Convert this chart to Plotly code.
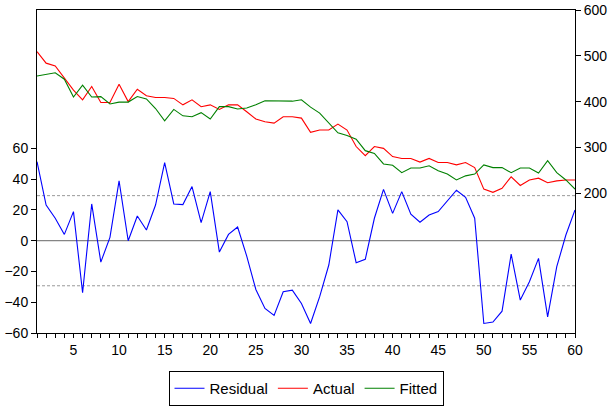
import plotly.graph_objects as go

obs = list(range(1, 61))

residual = [51.4, 23.2, 14.6, 4.1, 18.9, -33.8, 23.9, -13.9, 2.2, 38.9,
            0.0, 16.1, 7.0, 23.2, 50.8, 23.9, 23.5, 35.2, 11.7, 31.9,
            -7.4, 4.1, 8.9, -10.0, -31.7, -44.0, -48.6, -33.2, -32.1, -40.8,
            -53.8, -36.4, -15.8, 20.0, 12.4, -14.3, -12.1, 14.6, 33.4, 17.8,
            31.9, 17.2, 12.0, 16.7, 18.9, 26.0, 32.8, 28.2, 14.6, -53.8,
            -52.9, -45.8, -8.7, -38.6, -26.7, -11.5, -49.5, -16.9, 3.7, 20.0]

actual = [509, 484, 478, 451, 425, 404, 433, 398, 398, 438,
          400, 427, 413, 409, 409, 407, 393, 404, 389, 393,
          383, 393, 393, 378, 362, 356, 353, 367, 367, 364,
          333, 338, 338, 351, 338, 302, 282, 302, 298, 280,
          276, 276, 268, 276, 267, 267, 262, 267, 256, 209,
          202, 211, 236, 217, 229, 233, 223, 227, 229, 229]

fitted = [456, 460, 463, 449, 410, 436, 410, 411, 395, 399,
          399, 411, 406, 385, 358, 383, 369, 367, 376, 362,
          389, 389, 384, 386, 393, 402, 402, 402, 401, 404,
          388, 375, 354, 332, 326, 318, 293, 287, 264, 261,
          245, 255, 255, 260, 249, 242, 229, 238, 242, 262,
          256, 256, 245, 255, 255, 244, 271, 245, 229, 209]

std_err = 29.3

left_ticks = [-60, -40, -20, 0, 20, 40, 60]
right_ticks = [200, 300, 400, 500, 600]
x_labels = [str(v) if v % 5 == 0 else "" for v in obs]

font = dict(family="Liberation Sans, Arial, sans-serif", size=14, color="black")

fig = go.Figure()
fig.add_trace(go.Scatter(x=obs, y=residual, name="Residual", mode="lines",
                         line=dict(color="#0000ff", width=1.1), yaxis="y"))
fig.add_trace(go.Scatter(x=obs, y=actual, name="Actual", mode="lines",
                         line=dict(color="#ff0000", width=1.1), yaxis="y2"))
fig.add_trace(go.Scatter(x=obs, y=fitted, name="Fitted", mode="lines",
                         line=dict(color="#008000", width=1.1), yaxis="y2"))

# zero line and +/- one standard error bands
fig.add_shape(type="line", xref="paper", yref="y", x0=0, x1=1, y0=0, y1=0,
              line=dict(color="#666666", width=1), layer="below")
for v in (std_err, -std_err):
    fig.add_shape(type="line", xref="paper", yref="y", x0=0, x1=1, y0=v, y1=v,
                  line=dict(color="#999999", width=1, dash="3px,2px"), layer="below")

fig.update_layout(
    width=611, height=407,
    margin=dict(l=37, r=36, t=10, b=74, autoexpand=False),
    paper_bgcolor="white", plot_bgcolor="white",
    font=font,
    showlegend=True,
    legend=dict(orientation="h", x=0.5, xanchor="center", y=-0.226, yanchor="bottom",
                bordercolor="black", borderwidth=1, font=dict(font, size=15),
                itemwidth=30, tracegroupgap=0),
    xaxis=dict(range=[1, 60], tickvals=obs, ticktext=x_labels, automargin=False,
               ticks="outside", ticklen=4, tickcolor="black",
               showline=True, linecolor="black", linewidth=1, mirror=True,
               showgrid=False, zeroline=False),
    yaxis=dict(range=[-60, 150], tickvals=left_ticks, automargin=False,
               ticks="outside", ticklen=5, tickcolor="black",
               showline=True, linecolor="black", linewidth=1,
               showgrid=False, zeroline=False),
    yaxis2=dict(range=[-105, 600], tickvals=right_ticks, overlaying="y", side="right",
                automargin=False,
                ticks="outside", ticklen=5, tickcolor="black",
                showline=True, linecolor="black", linewidth=1,
                showgrid=False, zeroline=False),
)

fig.write_html("out.html")
